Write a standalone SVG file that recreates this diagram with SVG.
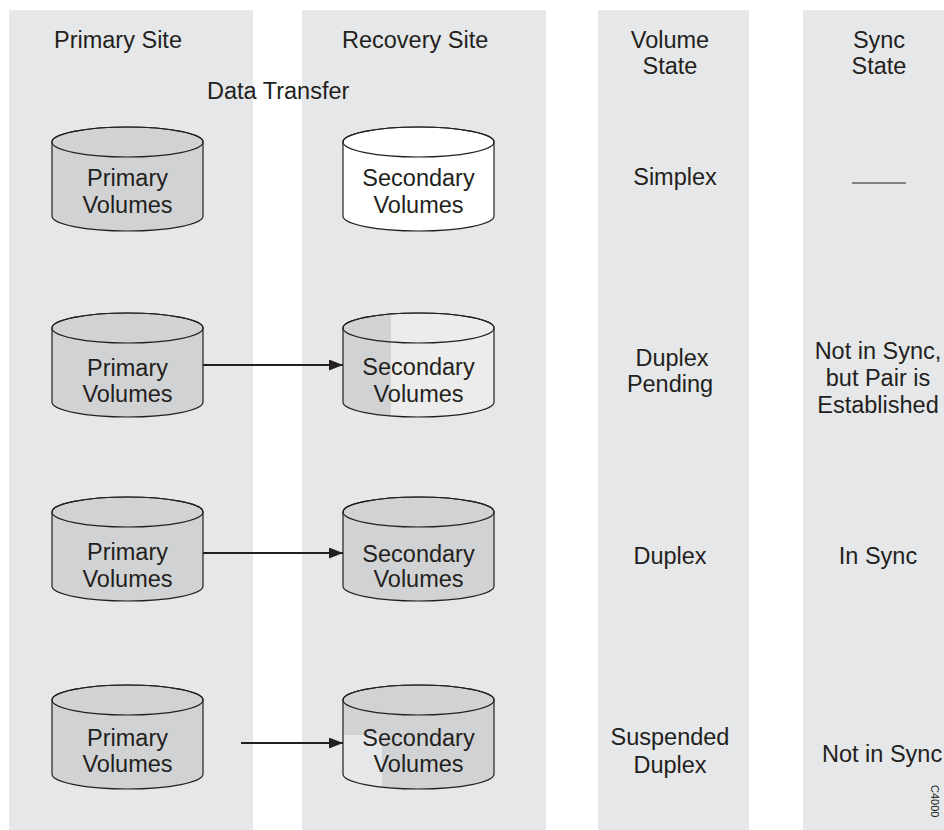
<svg xmlns="http://www.w3.org/2000/svg" xmlns:xlink="http://www.w3.org/1999/xlink" width="944" height="830" viewBox="0 0 944 830">
<style>
  .col { fill: #e6e7e8; }
  .t { font-family: "Liberation Sans", Arial, Helvetica, sans-serif; font-size: 23.5px; fill: #231f20; }
  .m { text-anchor: middle; }
  .out { fill: none; stroke: #231f20; stroke-width: 1.2; }
  .conn { stroke: #231f20; stroke-width: 2; fill: none; }
</style>
<defs>
  <path id="cylSil" d="M-75.5,0 V74 A75.5,15 0 0 0 75.5,74 V0 A75.5,15 0 0 0 -75.5,0 Z"/>
  <clipPath id="cylClip"><use xlink:href="#cylSil"/></clipPath>
  <marker id="arr" markerUnits="userSpaceOnUse" markerWidth="15" markerHeight="12" refX="14" refY="5.5" orient="auto">
    <path d="M0,0 L14,5.5 L0,11 Z" fill="#231f20"/>
  </marker>
</defs>

<!-- columns -->
<rect class="col" x="9" y="10" width="244" height="820"/>
<rect class="col" x="302" y="10" width="244" height="820"/>
<rect class="col" x="598" y="10" width="151" height="820"/>
<rect class="col" x="803" y="10" width="141" height="820"/>

<!-- headers -->
<text class="t" x="54" y="48">Primary Site</text>
<text class="t" x="342" y="48">Recovery Site</text>
<text class="t" x="207" y="99">Data Transfer</text>
<text class="t m" x="670" y="48">Volume</text>
<text class="t m" x="670" y="74">State</text>
<text class="t m" x="879" y="48">Sync</text>
<text class="t m" x="879" y="74">State</text>

<!-- Row 1 -->
<g id="p1" transform="translate(127.5,142)">
  <use xlink:href="#cylSil" fill="#d1d2d3"/>
  <use xlink:href="#cylSil" class="out"/>
  <ellipse class="out" rx="75.5" ry="15"/>
  <text class="t m" x="0" y="44">Primary</text>
  <text class="t m" x="0" y="71">Volumes</text>
</g>
<g id="s1" transform="translate(418.5,142)">
  <use xlink:href="#cylSil" fill="#ffffff"/>
  <use xlink:href="#cylSil" class="out"/>
  <ellipse class="out" rx="75.5" ry="15"/>
  <text class="t m" x="0" y="44">Secondary</text>
  <text class="t m" x="0" y="71">Volumes</text>
</g>
<g id="v1"><text class="t m" x="675" y="185">Simplex</text></g>
<g id="y1"><line x1="852" y1="183" x2="906" y2="183" stroke="#231f20" stroke-width="1.2"/></g>

<!-- Row 2 -->
<g id="p2" transform="translate(127.5,328)">
  <use xlink:href="#cylSil" fill="#d1d2d3"/>
  <use xlink:href="#cylSil" class="out"/>
  <ellipse class="out" rx="75.5" ry="15"/>
  <text class="t m" x="0" y="48">Primary</text>
  <text class="t m" x="0" y="74">Volumes</text>
</g>
<g id="s2" transform="translate(418.5,328)">
  <use xlink:href="#cylSil" fill="#ececec"/>
  <rect x="-76" y="-16" width="48.5" height="110" fill="#d1d2d3" clip-path="url(#cylClip)"/>
  <use xlink:href="#cylSil" class="out"/>
  <ellipse class="out" rx="75.5" ry="15"/>
  <text class="t m" x="0" y="47">Secondary</text>
  <text class="t m" x="0" y="74">Volumes</text>
</g>
<g id="v2">
  <text class="t m" x="672" y="366">Duplex</text>
  <text class="t m" x="670" y="392">Pending</text>
</g>
<g id="y2">
  <text class="t m" x="878" y="359">Not in Sync,</text>
  <text class="t m" x="878" y="386">but Pair is</text>
  <text class="t m" x="878" y="413">Established</text>
</g>

<!-- Row 3 -->
<g id="p3" transform="translate(127.5,512)">
  <use xlink:href="#cylSil" fill="#d1d2d3"/>
  <use xlink:href="#cylSil" class="out"/>
  <ellipse class="out" rx="75.5" ry="15"/>
  <text class="t m" x="0" y="48">Primary</text>
  <text class="t m" x="0" y="75">Volumes</text>
</g>
<g id="s3" transform="translate(418.5,512)">
  <use xlink:href="#cylSil" fill="#d1d2d3"/>
  <use xlink:href="#cylSil" class="out"/>
  <ellipse class="out" rx="75.5" ry="15"/>
  <text class="t m" x="0" y="50">Secondary</text>
  <text class="t m" x="0" y="75">Volumes</text>
</g>
<g id="v3"><text class="t m" x="670" y="564">Duplex</text></g>
<g id="y3"><text class="t m" x="878" y="564">In Sync</text></g>

<!-- Row 4 -->
<g id="p4" transform="translate(127.5,700)">
  <use xlink:href="#cylSil" fill="#d1d2d3"/>
  <use xlink:href="#cylSil" class="out"/>
  <ellipse class="out" rx="75.5" ry="15"/>
  <text class="t m" x="0" y="46">Primary</text>
  <text class="t m" x="0" y="72">Volumes</text>
</g>
<g id="s4" transform="translate(418.5,700)">
  <use xlink:href="#cylSil" fill="#d1d2d3"/>
  <rect x="-76" y="35" width="39.5" height="60" fill="#e6e7e8" clip-path="url(#cylClip)"/>
  <use xlink:href="#cylSil" class="out"/>
  <ellipse class="out" rx="75.5" ry="15"/>
  <text class="t m" x="0" y="46">Secondary</text>
  <text class="t m" x="0" y="72">Volumes</text>
</g>
<g id="v4">
  <text class="t m" x="670" y="745">Suspended</text>
  <text class="t m" x="670" y="773">Duplex</text>
</g>
<g id="y4"><text class="t" x="822" y="762">Not in Sync</text></g>

<!-- connectors -->
<g id="connectors">
  <line class="conn" x1="203" y1="365" x2="343" y2="365" marker-end="url(#arr)"/>
  <line class="conn" x1="203" y1="553" x2="343" y2="553" marker-end="url(#arr)"/>
  <line class="conn" x1="241" y1="743" x2="343" y2="743" marker-end="url(#arr)"/>
</g>

<text x="931" y="785" transform="rotate(90 931 785)" font-family="Liberation Sans, Arial, sans-serif" font-size="11" fill="#231f20">C4000</text>
</svg>
